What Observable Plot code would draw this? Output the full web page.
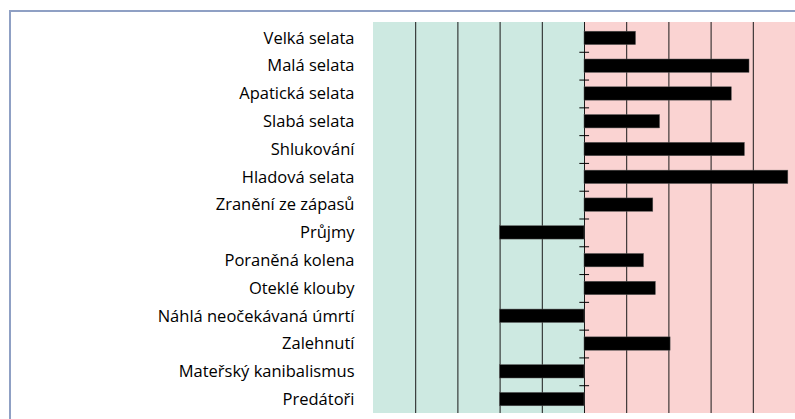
<!DOCTYPE html>
<html>
<head>
<meta charset="utf-8">
<script src="https://cdn.jsdelivr.net/npm/d3@7"></script>
<script src="https://cdn.jsdelivr.net/npm/@observablehq/plot@0.6"></script>
<style>
  html, body { margin: 0; padding: 0; background: #fff; }
  #wrap { position: relative; width: 795px; height: 419px; overflow: hidden; }
  #frame { position: absolute; left: 9px; top: 10px; right: -5px; bottom: -5px;
           border-top: 2px solid #8fa0c4; border-left: 2px solid #8fa0c4; }
  #chart { position: absolute; left: 0; top: 0; }
</style>
</head>
<body>
<div id="wrap"><div id="frame"></div><div id="chart"></div></div>
<script>
const categories = [
  "Velká selata", "Malá selata", "Apatická selata", "Slabá selata",
  "Shlukování", "Hladová selata", "Zranění ze zápasů", "Průjmy",
  "Poraněná kolena", "Oteklé klouby", "Náhlá neočekávaná úmrtí",
  "Zalehnutí", "Mateřský kanibalismus", "Predátoři"
];
const values = [1.22, 3.91, 3.49, 1.79, 3.80, 4.83, 1.63, -2, 1.41, 1.69, -2, 2.04, -2, -2];
const gridTicks = [-4, -3, -2, -1, 0, 1, 2, 3, 4];
const zones = [
  {x1: -5, x2: 0, fill: "#cde9e1"},
  {x1: 0, x2: 5, fill: "#fad3d2"}
];

const data = categories.map((c, i) => ({category: c, value: values[i]}));
const boundaries = categories.slice(1);

const chart = Plot.plot({
  width: 795,
  height: 419,
  marginLeft: 373,
  marginRight: 0,
  marginTop: 22,
  marginBottom: 6,
  style: {background: "transparent", fontFamily: "'Open Sans', sans-serif", fontSize: "16.5px", color: "#000"},
  x: {domain: [-5, 5], axis: null},
  y: {domain: categories, paddingInner: 0.52, paddingOuter: 0.26, insetTop: 2, round: false, label: null, axis: null},
  marks: [
    Plot.rect(zones, {x1: "x1", x2: "x2", fill: "fill"}),
    Plot.ruleX(gridTicks, {stroke: "#1a1a1a", strokeWidth: 1}),
    Plot.barX(data, {y: "category", x: "value", fill: "#000", stroke: "#555", strokeWidth: 0.5}),
    Plot.ruleY(boundaries, {y: d => d, x1: -0.11, x2: 0.12, dy: -13.9, stroke: "#000", strokeWidth: 1}),
    Plot.axisY({tickSize: 0, tickPadding: 19, fontSize: 16.5, fill: "#000", label: null})
  ]
});
document.getElementById("chart").appendChild(chart);
</script>
</body>
</html>
